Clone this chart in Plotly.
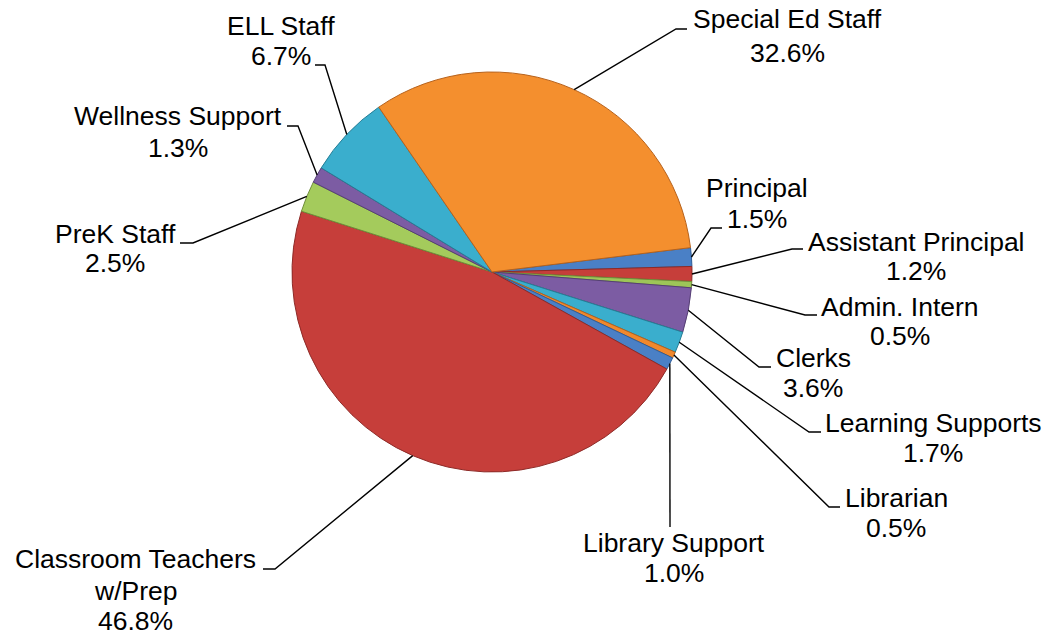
import math
import plotly.graph_objects as go

# Staff allocation by category (percent of total)
categories = ["Principal", "Assistant Principal", "Admin. Intern", "Clerks",
              "Learning Supports", "Librarian", "Library Support",
              "Classroom Teachers w/Prep", "PreK Staff", "Wellness Support",
              "ELL Staff", "Special Ed Staff"]
shares = [1.5, 1.2, 0.5, 3.6, 1.7, 0.5, 1.0, 46.8, 2.5, 1.3, 6.7, 32.6]

# label lines shown above the percentage
label_lines = [["Principal"], ["Assistant Principal"], ["Admin. Intern"], ["Clerks"],
               ["Learning Supports"], ["Librarian"], ["Library Support"],
               ["Classroom Teachers", "w/Prep"], ["PreK Staff"], ["Wellness Support"],
               ["ELL Staff"], ["Special Ed Staff"]]

slice_colors = ["#4A80C6", "#C63E3A", "#9DC558", "#7C5CA3", "#3AAECD", "#F0882C",
                "#4A80C6", "#C63E3A", "#A4CB5C", "#7C5CA3", "#3AAECD", "#F48F2E"]
edge_colors = ["#2F5D97", "#8E2A27", "#6F8E3A", "#563F75", "#257E96", "#B7621C",
               "#2F5D97", "#8E2A27", "#6F8E3A", "#563F75", "#257E96", "#B7621C"]

W, H = 1046, 636
CX, CY, R = 492, 272, 200          # pie centre and radius in pixels
ROTATION = 83                      # start angle of first slice, clockwise from 12 o'clock
FONT = dict(family="Liberation Sans, Arial, sans-serif", size=26.5, color="#000000")

# label placement: text centre x, baselines of each line, leader elbow and tail
label_cx = [757, 916, 900, 813, 933, 896, 674, 135, 115, 178, 281, 787]
label_baselines = [[197, 228], [251, 280], [316, 345], [367, 397], [432, 462],
                   [507, 537], [552, 582], [568, 600, 630], [243, 272], [125, 157],
                   [35, 65], [28, 62]]
leader_elbow = [(711, 228), (792, 249), (805, 315), (759, 367), (809, 432),
                (829, 507), (670, 527), (275, 569), (193, 243), (298, 126),
                (325, 65), (676, 29)]
leader_tail_x = [722, 803, 817, 771, 821, 840, 670, 263, 180, 287, 315, 687]


def px(x):
    return x / W


def py(y):
    return 1 - y / H


fig = go.Figure(go.Pie(
    labels=categories,
    values=shares,
    sort=False,
    direction="clockwise",
    rotation=ROTATION,
    textinfo="none",
    hoverinfo="label+percent",
    marker=dict(colors=slice_colors, line=dict(color=edge_colors, width=1)),
    domain=dict(x=[px(CX - R), px(CX + R)], y=[py(CY + R), py(CY - R)]),
    showlegend=False,
))

total = sum(shares)
cum = 0.0
annotations = []
shapes = []
for i, v in enumerate(shares):
    mid = cum + v / 2
    cum += v
    ang = math.radians(ROTATION + 360 * mid / total)
    sx = CX + R * math.sin(ang)
    sy = CY - R * math.cos(ang)
    ex, ey = leader_elbow[i]
    tx = leader_tail_x[i]
    path = f"M {px(sx)} {py(sy)} L {px(ex)} {py(ey)} L {px(tx)} {py(ey)}"
    shapes.append(dict(type="path", path=path, xref="paper", yref="paper",
                       line=dict(color="#000000", width=1.4)))
    lines = label_lines[i] + [f"{v:.1f}%"]
    for text, base in zip(lines, label_baselines[i]):
        annotations.append(dict(
            text=text, x=px(label_cx[i]), y=py(base - 9),
            xref="paper", yref="paper", xanchor="center", yanchor="middle",
            showarrow=False, font=FONT))

fig.update_layout(
    width=W, height=H,
    margin=dict(l=0, r=0, t=0, b=0),
    paper_bgcolor="white", plot_bgcolor="white",
    shapes=shapes, annotations=annotations,
)

fig.write_html("out.html")
